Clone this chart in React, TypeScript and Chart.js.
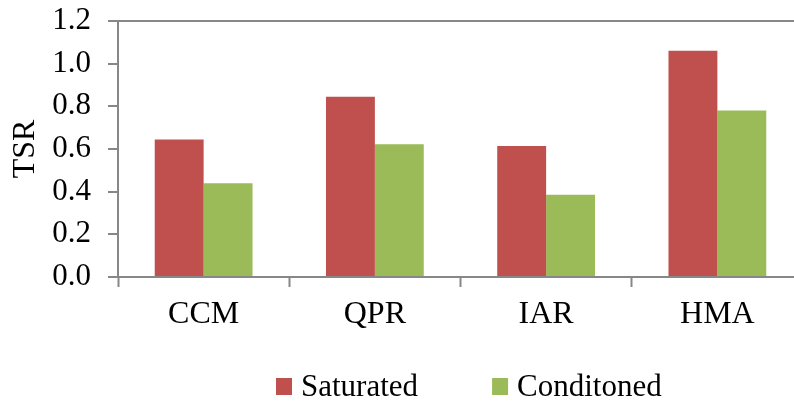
import React, { useEffect, useRef } from "react";
import { Chart, registerables } from "chart.js";

Chart.register(...registerables);

const categories = ["CCM", "QPR", "IAR", "HMA"];
const seriesNames = ["Saturated", "Conditoned"];
const saturated = [0.645, 0.845, 0.614, 1.06];
const conditioned = [0.44, 0.622, 0.385, 0.78];
const yMin = 0;
const yMax = 1.2;
const yStep = 0.2;
const colors = ["#C0504D", "#9BBB59"];

const FONT = "'Liberation Serif', 'Times New Roman', serif";
const AXIS = "#878787";

const legendPlugin = {
  id: "customLegend",
  afterDraw(chart: any) {
    const ctx = chart.ctx;
    ctx.save();
    ctx.font = `31px ${FONT}`;
    ctx.textBaseline = "alphabetic";
    ctx.textAlign = "left";
    let x = 276;
    chart.data.datasets.forEach((ds: any) => {
      ctx.fillStyle = ds.backgroundColor;
      ctx.fillRect(x, 378, 16, 17);
      ctx.fillStyle = "#000";
      ctx.fillText(ds.label, x + 25, 396);
      x += 25 + ctx.measureText(ds.label).width + 74;
    });
    ctx.restore();
  },
};

export default function App() {
  const ref = useRef<HTMLCanvasElement | null>(null);

  useEffect(() => {
    if (!ref.current) return;
    const chart = new Chart(ref.current, {
      type: "bar",
      data: {
        labels: categories,
        datasets: [
          { label: seriesNames[0], data: saturated, backgroundColor: colors[0] },
          { label: seriesNames[1], data: conditioned, backgroundColor: colors[1] },
        ],
      },
      options: {
        responsive: false,
        animation: false,
        devicePixelRatio: 1,
        layout: { padding: { top: 21, left: 0, right: 0, bottom: 0 } },
        datasets: {
          bar: { categoryPercentage: 0.571, barPercentage: 1, borderWidth: 0 },
        },
        plugins: {
          legend: { display: false },
          tooltip: { enabled: false },
        },
        scales: {
          x: {
            afterFit: (s: any) => {
              s.height = 126;
              s.paddingLeft = 0;
              s.paddingRight = 0;
            },
            border: { display: true, color: AXIS, width: 2 },
            grid: {
              offset: true,
              drawOnChartArea: false,
              drawTicks: true,
              tickLength: 10,
              tickColor: AXIS,
              tickWidth: 2,
            },
            ticks: {
              color: "#000",
              font: { family: FONT, size: 32 },
              padding: 8,
              maxRotation: 0,
            },
          },
          y: {
            min: yMin,
            max: yMax,
            afterFit: (s: any) => {
              s.width = 118;
              s.paddingTop = 0;
              s.paddingBottom = 0;
            },
            border: { display: true, color: AXIS, width: 2 },
            grid: {
              color: (c: any) =>
                c.tick && Math.abs(c.tick.value - yMax) < 1e-9 ? AXIS : "rgba(0,0,0,0)",
              lineWidth: 2,
              tickLength: 10,
              tickColor: AXIS,
              tickWidth: 2,
            },
            ticks: {
              stepSize: yStep,
              color: "#000",
              font: { family: FONT, size: 31 },
              padding: 17,
              callback: (v: any) => Number(v).toFixed(1),
            },
            title: {
              display: true,
              text: "TSR",
              color: "#000",
              font: { family: FONT, size: 32 },
              padding: { top: 6, bottom: 0 },
            },
          },
        },
      },
      plugins: [legendPlugin],
    });
    return () => chart.destroy();
  }, []);

  return (
    <div
      style={{
        position: "fixed",
        left: 0,
        top: 0,
        width: 794,
        height: 403,
        overflow: "hidden",
        background: "#fff",
      }}
    >
      <canvas ref={ref} width={803} height={403} />
    </div>
  );
}
